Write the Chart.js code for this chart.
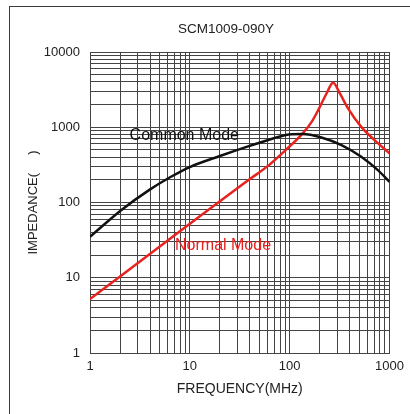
<!DOCTYPE html>
<html>
<head>
<meta charset="utf-8">
<script src="https://cdn.jsdelivr.net/npm/chart.js@4.4.0/dist/chart.umd.min.js"></script>
<style>
    body { margin: 0; background: #fff; }
    #wrap { position: relative; width: 410px; height: 414px; overflow: hidden; }
    #frame { position: absolute; left: 9px; top: 6px; width: 430px; height: 430px;
             border-top: 1.5px solid #3a3a3a; border-left: 1.5px solid #3a3a3a; }
    canvas { position: absolute; left: 0; top: 0; }
</style>
</head>
<body>
<div id="wrap">
    <div id="frame"></div>
    <canvas id="myChart" width="410" height="414"></canvas>
</div>
<script>
const chartTitle = 'SCM1009-090Y';

// frequency in MHz, impedance in ohm
const cmFreq = [1, 2.05, 3.9, 6.4, 10, 20, 37, 68, 89, 105, 133, 208, 330, 521, 764, 1000];
const cmImp  = [35, 79, 146, 218, 296, 415, 549, 710, 785, 809, 812, 732, 578, 405, 269, 188];

const nmFreq = [1, 2, 5, 10, 20, 40, 62, 90, 133, 166, 193, 234, 272, 318, 384, 521, 708, 1000];
const nmImp  = [5.2, 10.4, 26, 52, 104, 205, 314, 490, 809, 1180, 1690, 2810, 3900, 2810, 1780, 1010, 674, 449];

const xLabelValues = [1, 10, 100, 1000];
const yLabelValues = [1, 10, 100, 1000, 10000];

const curveLabels = [
    { text: 'Common Mode', f: 8.8, z: 785, color: '#111' },
    { text: 'Normal Mode', f: 21.5, z: 26.6, color: '#e8231f' }
];

// grid at 1..9 of every decade
function logGrid(decades) {
    const out = [];
    decades.forEach((d, i) => {
        if (i === decades.length - 1) { out.push(d); return; }
        for (let m = 1; m < 10; m++) out.push(m * d);
    });
    return out;
}
const xGrid = logGrid(xLabelValues);
const yGrid = logGrid(yLabelValues);

const font = '"Liberation Sans", Arial, sans-serif';
Chart.defaults.font.family = font;
Chart.defaults.color = '#222';

const annotations = {
    id: 'annotations',
    beforeDatasetsDraw(chart) {
        const { ctx, scales: { x, y } } = chart;
        ctx.save();
        ctx.textAlign = 'center';
        ctx.textBaseline = 'middle';
        ctx.font = '13.5px ' + font;
        ctx.fillStyle = '#222';
        ctx.fillText(chartTitle, 226, 29);
        ctx.font = '16px ' + font;
        curveLabels.forEach(l => {
            ctx.fillStyle = l.color;
            ctx.fillText(l.text, x.getPixelForValue(l.f), y.getPixelForValue(l.z));
        });
        ctx.restore();
    }
};

const ctx = document.getElementById('myChart').getContext('2d');
new Chart(ctx, {
    type: 'line',
    data: {
        datasets: [{
            label: 'Common Mode',
            data: cmFreq.map((f, i) => ({ x: f, y: cmImp[i] })),
            borderColor: '#111',
            borderWidth: 2.5,
            pointRadius: 0,
            cubicInterpolationMode: 'monotone'
        }, {
            label: 'Normal Mode',
            data: nmFreq.map((f, i) => ({ x: f, y: nmImp[i] })),
            borderColor: '#e8231f',
            borderWidth: 2.5,
            pointRadius: 0,
            cubicInterpolationMode: 'monotone'
        }]
    },
    options: {
        responsive: false,
        animation: false,
        layout: { padding: { left: 0, right: 18, top: 52, bottom: 0 } },
        plugins: { legend: { display: false }, tooltip: { enabled: false } },
        scales: {
            x: {
                type: 'logarithmic',
                min: 1,
                max: 1000,
                afterBuildTicks: axis => { axis.ticks = xGrid.map(v => ({ value: v })); },
                afterFit: scale => { scale.height = 61; },
                grid: { color: '#444', lineWidth: 1, drawTicks: false },
                border: { color: '#444' },
                ticks: {
                    autoSkip: false,
                    maxRotation: 0,
                    padding: 6,
                    font: { size: 13 },
                    callback: v => xLabelValues.includes(v) ? String(v) : ''
                },
                title: { display: true, text: 'FREQUENCY(MHz)', font: { size: 14 }, padding: { top: 0, bottom: 16.6 } }
            },
            y: {
                type: 'logarithmic',
                min: 1,
                max: 10000,
                afterBuildTicks: axis => { axis.ticks = yGrid.map(v => ({ value: v })); },
                afterFit: scale => { scale.width = 90; },
                grid: { color: '#444', lineWidth: 1, drawTicks: false },
                border: { color: '#444' },
                ticks: {
                    autoSkip: false,
                    padding: 10,
                    font: { size: 13 },
                    callback: v => yLabelValues.includes(v) ? String(v) : ''
                },
                title: { display: true, text: 'IMPEDANCE(     )', font: { size: 13 }, padding: { top: 26, bottom: 0 } }
            }
        }
    },
    plugins: [annotations]
});
</script>
</body>
</html>
